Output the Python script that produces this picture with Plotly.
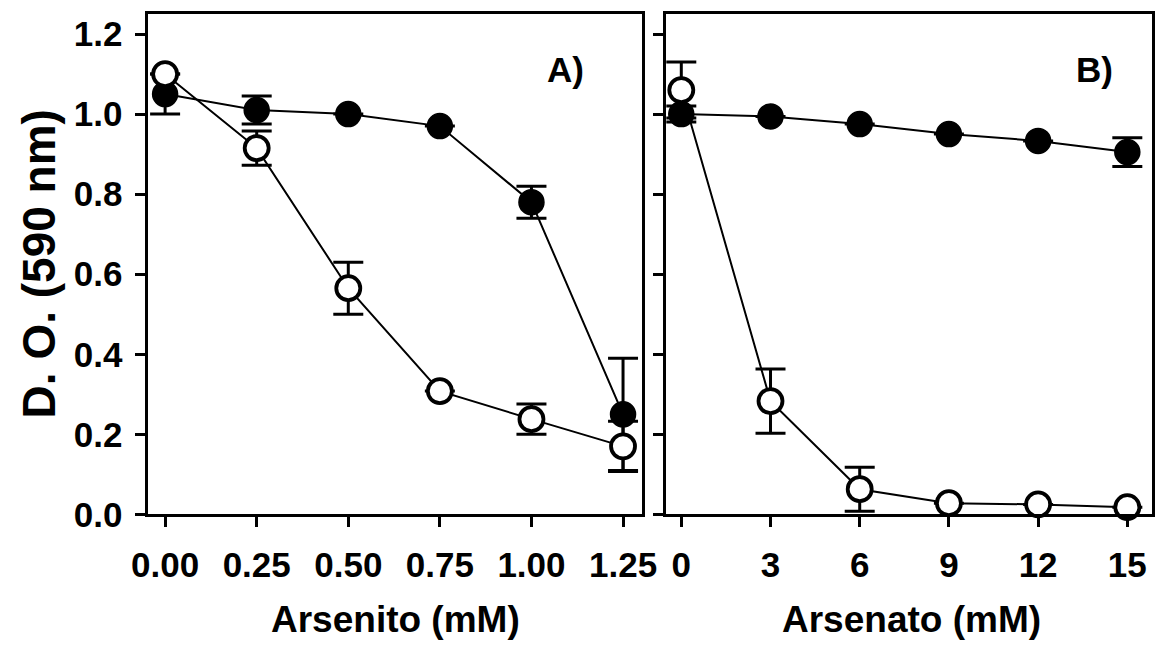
import plotly.graph_objects as go

# ---- Data ----
arsenito_x = [0.0, 0.25, 0.50, 0.75, 1.00, 1.25]
arsenito_filled = [1.05, 1.01, 1.00, 0.97, 0.78, 0.25]
arsenito_filled_err = [0.05, 0.035, 0.0, 0.0, 0.04, 0.14]
arsenito_open = [1.10, 0.915, 0.565, 0.308, 0.238, 0.17]
arsenito_open_err = [0.0, 0.043, 0.065, 0.0, 0.038, 0.063]

arsenato_x = [0, 3, 6, 9, 12, 15]
arsenato_filled = [1.00, 0.994, 0.975, 0.95, 0.933, 0.905]
arsenato_filled_err = [0.02, 0.0, 0.0, 0.0, 0.0, 0.036]
arsenato_open = [1.06, 0.283, 0.063, 0.028, 0.025, 0.018]
arsenato_open_err = [0.07, 0.08, 0.055, 0.0, 0.0, 0.0]

left_ticks = [0.0, 0.25, 0.50, 0.75, 1.00, 1.25]
left_ticktext = ["0.00", "0.25", "0.50", "0.75", "1.00", "1.25"]
right_ticks = [0, 3, 6, 9, 12, 15]
y_ticks = [0.0, 0.2, 0.4, 0.6, 0.8, 1.0, 1.2]
y_ticktext = ["0.0", "0.2", "0.4", "0.6", "0.8", "1.0", "1.2"]

FONT = "Arial, Liberation Sans, sans-serif"
W, H = 1166, 646

def px_x(p):
    return p / W

def px_y(p):
    return 1 - p / H

fig = go.Figure()

def add_series(x, y, err, xa, ya, filled):
    fig.add_trace(go.Scatter(
        x=x, y=y, xaxis=xa, yaxis=ya, mode="lines+markers",
        line=dict(color="black", width=2),
        marker=dict(
            symbol="circle",
            size=25 if filled else 24,
            color="black" if filled else "white",
            line=dict(color="black", width=1.5 if filled else 3.8),
        ),
        error_y=dict(type="data", array=err, visible=True,
                     color="black", thickness=3, width=15),
        showlegend=False,
        cliponaxis=False,
    ))

add_series(arsenito_x, arsenito_filled, arsenito_filled_err, "x", "y", True)
add_series(arsenito_x, arsenito_open, arsenito_open_err, "x", "y", False)
add_series(arsenato_x, arsenato_filled, arsenato_filled_err, "x2", "y2", True)
add_series(arsenato_x, arsenato_open, arsenato_open_err, "x2", "y2", False)

axis_common = dict(
    showline=True, linecolor="black", linewidth=3,
    ticks="outside", ticklen=10, tickwidth=3, tickcolor="black",
    showgrid=False, zeroline=False,
    tickfont=dict(family=FONT, size=35, color="black", weight="bold"),
)

y_domain = [px_y(530), px_y(14)]

fig.update_layout(
    width=W, height=H,
    margin=dict(l=0, r=0, t=0, b=0),
    paper_bgcolor="white", plot_bgcolor="white",
    xaxis=dict(**axis_common, domain=[px_x(135), px_x(643)],
               range=[-0.048, 1.303], tickvals=left_ticks, ticktext=left_ticktext,
               mirror=True, anchor="y", ticklabelstandoff=8),
    yaxis=dict(**axis_common, domain=y_domain, range=[0, 1.251],
               tickvals=y_ticks, ticktext=y_ticktext, mirror=True, anchor="x",
               ticklabelstandoff=5),
    xaxis2=dict(**axis_common, domain=[px_x(667), 1.0],
                range=[-0.52, 15.83], tickvals=right_ticks,
                mirror=True, anchor="y2", ticklabelstandoff=8),
    yaxis2=dict(**axis_common, domain=y_domain, range=[0, 1.251],
                tickvals=y_ticks, showticklabels=False, mirror=True, anchor="x2"),
)

annots = [
    dict(text="D. O. (590 nm)", x=px_x(24), y=px_y(272), textangle=-90,
         font=dict(family=FONT, size=46, color="black", weight="bold")),
    dict(text="Arsenito (mM)", x=px_x(390), y=px_y(638),
         font=dict(family=FONT, size=37, color="black", weight="bold")),
    dict(text="Arsenato (mM)", x=px_x(919), y=px_y(638),
         font=dict(family=FONT, size=37, color="black", weight="bold")),
    dict(text="A)", x=px_x(564), y=px_y(72),
         font=dict(family=FONT, size=35, color="black", weight="bold")),
    dict(text="B)", x=px_x(1107), y=px_y(72),
         font=dict(family=FONT, size=35, color="black", weight="bold")),
]
for a in annots:
    fig.add_annotation(xref="paper", yref="paper", showarrow=False,
                       xanchor="center", yanchor="middle", **a)

fig.write_html("out.html")
